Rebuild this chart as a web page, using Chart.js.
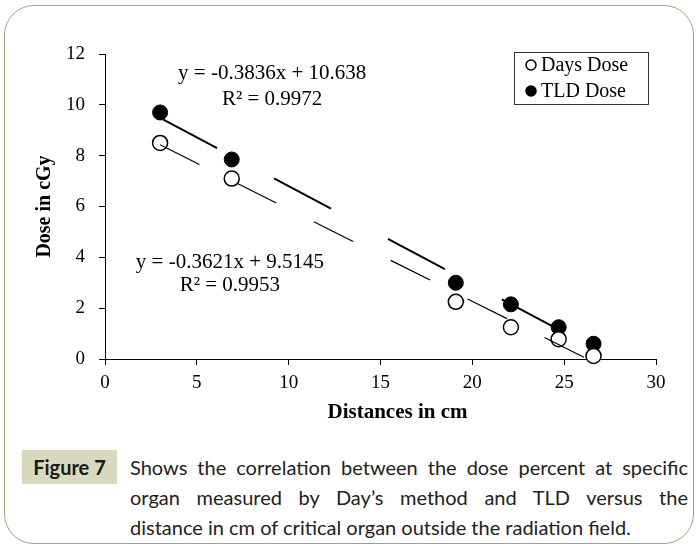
<!DOCTYPE html>
<html>
<head>
<meta charset="utf-8">
<script src="https://cdn.jsdelivr.net/npm/chart.js@4.4.0/dist/chart.umd.min.js"></script>
<style>
body{margin:0;background:#fff;width:698px;height:549px;overflow:hidden;position:relative}
#frame{position:absolute;left:4px;top:5px;width:688px;height:537px;border:1.5px solid #a8a27c;border-radius:30px}
#wrap{position:absolute;left:0;top:0;width:698px;height:440px}
#badge{position:absolute;left:22px;top:450px;width:95px;height:34px;background:#d9d9be;font:bold 20px Lato;color:#1a1a1a;line-height:34px;text-align:center}
#caption{position:absolute;left:130px;top:452px;width:558px;font:20px Lato;color:#222;line-height:30px}
.j{text-align:justify;text-align-last:justify}
</style>
</head>
<body>
<div id="frame"></div>
<div id="wrap"><canvas id="doseChart"></canvas></div>
<div id="badge">Figure 7</div>
<div id="caption">
  <div class="j">Shows the correlation between the dose percent at specific</div>
  <div class="j">organ measured by Day’s method and TLD versus the</div>
  <div>distance in cm of critical organ outside the radiation field.</div>
</div>
<script>
// data
var distances = [3, 6.9, 19.1, 22.1, 24.7, 26.6];
var daysDose = [8.5, 7.1, 2.25, 1.25, 0.78, 0.12];
var tldDose = [9.7, 7.85, 3.0, 2.15, 1.25, 0.6];

// trend lines (end points)
var fitX = [3, 26.6];
var daysFit = [8.43, -0.12];
var tldFit = [9.49, 0.43];

var xTicks = [0, 5, 10, 15, 20, 25, 30];
var yTicks = [0, 2, 4, 6, 8, 10, 12];
var seriesNames = ['Days Dose', 'TLD Dose'];
var daysEq = ['y = -0.3621x + 9.5145', 'R² = 0.9953'];
var tldEq = ['y = -0.3836x + 10.638', 'R² = 0.9972'];

var serif = '"Liberation Serif", "Times New Roman", serif';

function pairs(xs, ys) {
    return xs.map(function(x, i){ return {x: x, y: ys[i]}; });
}

// equations + x title + legend box
var extras = {
    id: 'extras',
    afterDraw: function(chart) {
        var c = chart.ctx, xs = chart.scales.x, ys = chart.scales.y, a = chart.chartArea;
        c.save();
        c.fillStyle = '#000';
        c.textAlign = 'center';
        c.textBaseline = 'middle';
        c.font = '21px ' + serif;
        c.fillText(tldEq[0], xs.getPixelForValue(9.1), ys.getPixelForValue(11.22));
        c.fillText(tldEq[1], xs.getPixelForValue(9.1), ys.getPixelForValue(10.2));
        c.fillText(daysEq[0], xs.getPixelForValue(6.8), ys.getPixelForValue(3.78));
        c.fillText(daysEq[1], xs.getPixelForValue(6.8), ys.getPixelForValue(2.91));

        // x axis title
        c.font = 'bold 21px ' + serif;
        c.fillText('Distances in cm', (a.left + a.right) / 2 + 17, a.bottom + 54);

        // legend
        var bx = a.right - 142, by = a.top - 2, bw = 134, bh = 52;
        c.strokeStyle = '#333';
        c.lineWidth = 1;
        c.strokeRect(bx + 0.5, by + 0.5, bw, bh);
        c.textAlign = 'left';
        c.font = '20px ' + serif;
        var items = chart.data.datasets.filter(function(d){ return !d.showLine; });
        items.forEach(function(d, i){
            var cy = by + 13 + i * 26;
            c.beginPath();
            c.arc(bx + 17, cy, 5, 0, Math.PI * 2);
            c.fillStyle = d.backgroundColor;
            c.fill();
            c.lineWidth = 1.5;
            c.strokeStyle = d.borderColor;
            c.stroke();
            c.fillStyle = '#000';
            c.fillText(d.label, bx + 27, cy + 1);
        });
        c.restore();
    }
};

var ctx = document.getElementById('doseChart').getContext('2d');
new Chart(ctx, {
    type: 'scatter',
    data: {
        datasets: [
            {
                label: 'TLD trend',
                data: pairs(fitX, tldFit),
                showLine: true,
                borderColor: '#000',
                borderWidth: 2,
                borderDash: [64.5, 64.5],
                pointRadius: 0
            },
            {
                label: 'Days trend',
                data: pairs(fitX, daysFit),
                showLine: true,
                borderColor: '#000',
                borderWidth: 1.2,
                borderDash: [44, 42],
                pointRadius: 0
            },
            {
                label: seriesNames[0],
                data: pairs(distances, daysDose),
                backgroundColor: '#fff',
                borderColor: '#000',
                borderWidth: 1.5,
                pointRadius: 7.5,
                clip: false
            },
            {
                label: seriesNames[1],
                data: pairs(distances, tldDose),
                backgroundColor: '#000',
                borderColor: '#000',
                borderWidth: 1,
                pointRadius: 7.5,
                clip: false
            }
        ]
    },
    options: {
        responsive: true,
        maintainAspectRatio: false,
        animation: false,
        events: [],
        layout: { padding: { left: 0, top: 54, right: 42, bottom: 0 } },
        plugins: { legend: { display: false }, tooltip: { enabled: false } },
        scales: {
            x: {
                type: 'linear',
                min: xTicks[0],
                max: xTicks[xTicks.length - 1],
                afterBuildTicks: function(s){ s.ticks = xTicks.map(function(v){ return {value: v}; }); },
                afterFit: function(s){ s.height = 81; },
                ticks: { color: '#000', padding: 7, font: { family: serif, size: 19 } },
                grid: { drawOnChartArea: false, drawTicks: true, tickLength: 6, color: '#000' },
                border: { color: '#000', width: 1 }
            },
            y: {
                min: yTicks[0],
                max: yTicks[yTicks.length - 1],
                afterBuildTicks: function(s){ s.ticks = yTicks.map(function(v){ return {value: v}; }); },
                afterFit: function(s){ s.width = 105; },
                ticks: { color: '#000', padding: 14, font: { family: serif, size: 19 } },
                grid: { drawOnChartArea: false, drawTicks: true, tickLength: 6, color: '#000' },
                border: { color: '#000', width: 1 },
                title: {
                    display: true,
                    text: 'Dose in cGy',
                    color: '#000',
                    padding: { top: 33, bottom: 0 },
                    font: { family: serif, size: 20, weight: 'bold' }
                }
            }
        }
    },
    plugins: [extras]
});
</script>
</body>
</html>
